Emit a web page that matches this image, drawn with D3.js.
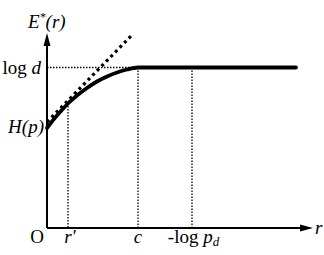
<!DOCTYPE html>
<html>
<head>
<meta charset="utf-8">
<script src="https://cdn.jsdelivr.net/npm/d3@7"></script>
<style>
body{margin:0;background:#fff;}
</style>
</head>
<body>
<script>
// curve E*(r) (r and E in axis units)
var curveR = [0, 7, 14, 21, 30, 40, 50, 60, 70, 80, 91, 249];
var curveE = [100, 109, 117, 124.5, 132.5, 140, 146.5, 151.5, 155.5, 158.5, 160.5, 160.5];
// tangent line at r'
var tangentR = [0, 85];
var tangentE = [106, 193];
// levels on the E axis
var levelNames = ["H(p)", "log d"];
var levelValues = [100, 160.5];
// ticks on the r axis
var tickNames = ["r'", "c", "-log pd"];
var tickValues = [21, 91, 145];
var tickTops = [125, 160.5, 160.5];

var w = 324, h = 255;
var svg = d3.select("body").append("svg")
  .attr("width", w)
  .attr("height", h);

var x = d3.scaleLinear().domain([0, 266]).range([47, 313]);
var y = d3.scaleLinear().domain([0, 195]).range([228, 33]);

//AXES WITH ARROWS
svg.append("line")
  .attr("x1", x(0)).attr("y1", y(0))
  .attr("x2", x(0)).attr("y2", y(183))
  .attr("stroke", "#000").attr("stroke-width", 2);
svg.append("path")
  .attr("d", "M" + x(0) + "," + y(195) + "L" + (x(0) - 3.5) + "," + (y(195) + 13) + "L" + (x(0) + 3.5) + "," + (y(195) + 13) + "Z")
  .attr("fill", "#000");
svg.append("line")
  .attr("x1", x(0)).attr("y1", y(0))
  .attr("x2", x(254)).attr("y2", y(0))
  .attr("stroke", "#000").attr("stroke-width", 2);
svg.append("path")
  .attr("d", "M" + x(266) + "," + y(0) + "L" + (x(266) - 13) + "," + (y(0) - 3.5) + "L" + (x(266) - 13) + "," + (y(0) + 3.5) + "Z")
  .attr("fill", "#000");

//DOTTED GUIDES
svg.append("line")
  .attr("x1", x(0)).attr("y1", y(levelValues[1]))
  .attr("x2", x(91)).attr("y2", y(levelValues[1]))
  .attr("stroke", "#000").attr("stroke-width", 1.3)
  .attr("stroke-dasharray", "1.5,1.5");
svg.selectAll(".vguide")
  .data(tickValues)
  .join("line")
  .attr("class", "vguide")
  .attr("x1", function(d){ return x(d); })
  .attr("x2", function(d){ return x(d); })
  .attr("y1", function(d, i){ return y(tickTops[i]); })
  .attr("y2", y(0))
  .attr("stroke", "#000").attr("stroke-width", 1.3)
  .attr("stroke-dasharray", "1.5,1.5");

//TANGENT
svg.append("line")
  .attr("x1", x(tangentR[0])).attr("y1", y(tangentE[0]))
  .attr("x2", x(tangentR[1])).attr("y2", y(tangentE[1]))
  .attr("stroke", "#000").attr("stroke-width", 3.2)
  .attr("stroke-dasharray", "3,3.5");

//CURVE
var line = d3.line()
  .x(function(d, i){ return x(curveR[i]); })
  .y(function(d, i){ return y(curveE[i]); })
  .curve(d3.curveMonotoneX);
svg.append("path")
  .attr("d", line(curveR))
  .attr("fill", "none")
  .attr("stroke", "#000")
  .attr("stroke-width", 3.8)
  .attr("stroke-linecap", "round");

//LABELS
function label(px, py){
  return svg.append("text")
    .attr("x", px).attr("y", py)
    .style("font-family", "'Liberation Serif'")
    .style("font-size", "19px");
}

var t = label(28, 28).style("font-style", "italic");
t.append("tspan").text("E");
t.append("tspan").attr("dy", -7).style("font-size", "12px").text("*");
t.append("tspan").attr("dy", 7).text("(r)");

t = label(41, y(levelValues[1]) + 6).attr("text-anchor", "end");
t.append("tspan").text("log ");
t.append("tspan").style("font-style", "italic").text("d");

label(44, 133)
  .attr("text-anchor", "end").style("font-style", "italic").text(levelNames[0]);

label(37, 243).attr("text-anchor", "middle").text("O");

label(x(tickValues[0]) + 2, 243)
  .attr("text-anchor", "middle").style("font-style", "italic").text("r\u2032");
label(x(tickValues[1]), 243)
  .attr("text-anchor", "middle").style("font-style", "italic").text(tickNames[1]);
t = label(x(tickValues[2]) + 1.5, 243).attr("text-anchor", "middle");
t.append("tspan").text("-log ");
t.append("tspan").style("font-style", "italic").text("p");
t.append("tspan").style("font-style", "italic").style("font-size", "13px").attr("dy", 3).text("d");

label(315, 234).style("font-style", "italic").text("r");
</script>
</body>
</html>
